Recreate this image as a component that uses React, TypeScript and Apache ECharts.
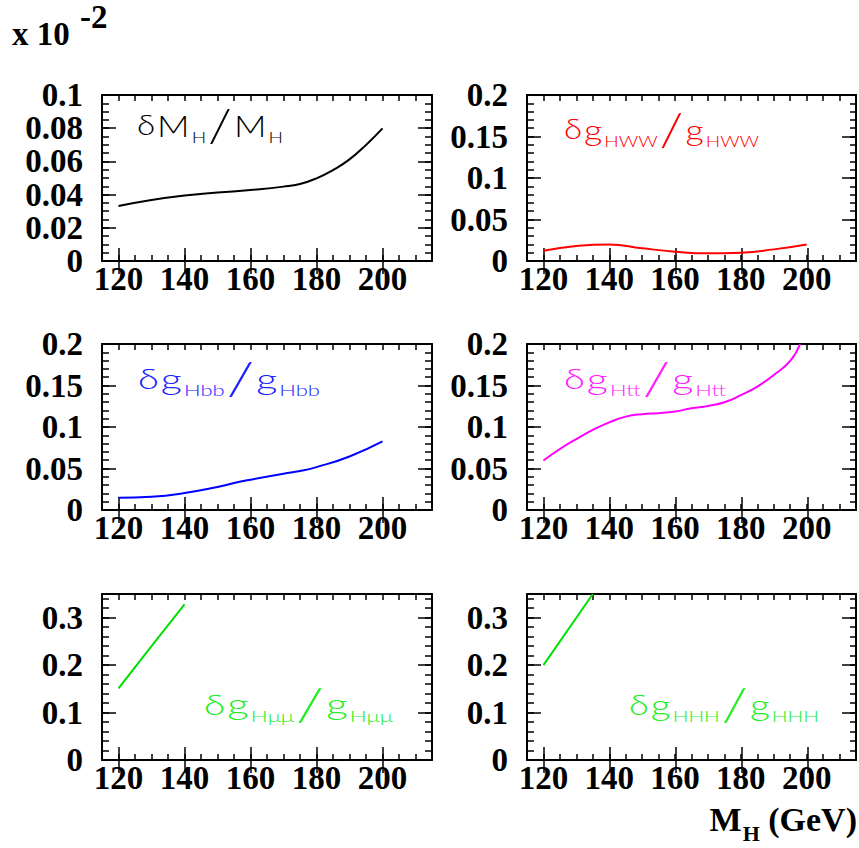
import React, { useEffect, useRef } from 'react';
import * as echarts from 'echarts';

// ---- tick labels ----
const xTickLabels = [120, 140, 160, 180, 200];

// ---- data ----
const massMH = [120, 130, 140, 150, 160, 170, 175, 180, 185, 190, 195, 200];
const dMH = [0.0331, 0.0367, 0.0394, 0.0412, 0.0428, 0.0448, 0.0464, 0.0498, 0.0548, 0.0612, 0.0699, 0.0799];

const massHWW = [120, 130, 140, 150, 160, 170, 180, 190, 200];
const dHWW = [0.0124, 0.018, 0.02, 0.0153, 0.0112, 0.0092, 0.01, 0.014, 0.02];

const massHbb = [120, 130, 140, 150, 155, 160, 170, 175, 180, 190, 200];
const dHbb = [0.0148, 0.016, 0.0204, 0.0277, 0.0325, 0.0365, 0.0437, 0.0469, 0.0517, 0.0645, 0.0826];

const massHtt = [120, 125, 130, 135, 140, 145, 150, 155, 160, 165, 170, 175, 180, 185, 190, 195, 198];
const dHtt = [0.0597, 0.0735, 0.0855, 0.0965, 0.1055, 0.1125, 0.1155, 0.1166, 0.1186, 0.1226, 0.1254, 0.1298, 0.1383, 0.1487, 0.1627, 0.1796, 0.2];

const massHmm = [120, 130, 140];
const dHmm = [0.151, 0.24, 0.328];

const massHHH = [120, 130, 135];
const dHHH = [0.2, 0.3, 0.35];

// ---- label texts ----
const labelMH = [['δ', 'd'], ['M', 'm'], ['H', 's'], ['/', 'sl'], ['M', 'm'], ['H', 's']];
const coupling = (sub: string) => [['δ', 'd'], ['g', 'm'], [sub, 's'], ['/', 'sl'], ['g', 'm'], [sub, 's']];

const SERIF = "'Liberation Serif', 'Times New Roman', serif";
const SANS = "Lato, 'DejaVu Sans', sans-serif";
const SANS_WEIGHT = 300;
const W = 330;
const H = 166;

const panels = [
  { xs: massMH, ys: dMH, color: '#000000', tcolor: '#000000', yMax: 0.1, major: 0.02, minor: 0.005, left: 102, top: 95,
    label: labelMH, lx: 137, ly: 125, lw: 146 },
  { xs: massHWW, ys: dHWW, color: '#ff0000', tcolor: '#ff0000', yMax: 0.2, major: 0.05, minor: 0.01, left: 527, top: 95,
    label: coupling('HWW'), lx: 564, ly: 129, lw: 195 },
  { xs: massHbb, ys: dHbb, color: '#0000ff', tcolor: '#2020ff', yMax: 0.2, major: 0.05, minor: 0.01, left: 102, top: 344,
    label: coupling('Hbb'), lx: 138, ly: 378, lw: 182 },
  { xs: massHtt, ys: dHtt, color: '#ff00ff', tcolor: '#ff20ff', yMax: 0.2, major: 0.05, minor: 0.01, left: 527, top: 344,
    label: coupling('Htt'), lx: 564, ly: 378, lw: 162 },
  { xs: massHmm, ys: dHmm, color: '#00e000', tcolor: '#22ee22', yMax: 0.35, major: 0.1, minor: 0.02, left: 102, top: 594,
    label: coupling('Hμμ'), lx: 204, ly: 704, lw: 189 },
  { xs: massHHH, ys: dHHH, color: '#00e000', tcolor: '#22ee22', yMax: 0.35, major: 0.1, minor: 0.02, left: 527, top: 594,
    label: coupling('HHH'), lx: 629, ly: 704, lw: 190 },
];

const kinds: Record<string, { size: number; dy: number }> = {
  d: { size: 28, dy: 0 },
  m: { size: 30, dy: 0 },
  s: { size: 16, dy: 12 },
  sl: { size: 46, dy: -1 },
};

function buildOption() {
  const canvas = document.createElement('canvas');
  const ctx = canvas.getContext('2d')!;
  const measure = (t: string, font: string) => {
    ctx.font = font;
    return ctx.measureText(t).width;
  };

  const grid: any[] = [];
  const xAxis: any[] = [];
  const yAxis: any[] = [];
  const series: any[] = [];
  const graphic: any[] = [];
  const black = '#000000';
  const labelFont = { fontSize: 33, fontWeight: 'bold', fontFamily: SERIF, color: black };

  panels.forEach((p, i) => {
    const g = { left: p.left, top: p.top, width: W, height: H, containLabel: false };
    grid.push({ ...g }, { ...g });
    const ga = 2 * i;
    const gb = 2 * i + 1;
    const frame = { show: true, onZero: false, lineStyle: { color: black, width: 2 } };
    const xFmt = (v: number) => (xTickLabels.includes(v) ? String(v) : '');
    const yFmt = (v: number) => {
      const k = v / p.major;
      return Math.abs(k - Math.round(k)) < 1e-6 ? String(+v.toFixed(4)) : '';
    };
    xAxis.push(
      { type: 'value', gridIndex: ga, position: 'bottom', min: 115, max: 215, interval: 5,
        axisLine: frame, splitLine: { show: false },
        axisTick: { inside: true, length: 6, lineStyle: { color: black, width: 1.5 } },
        axisLabel: { ...labelFont, margin: 1, formatter: xFmt } },
      { type: 'value', gridIndex: ga, position: 'top', min: 115, max: 215, interval: 5,
        axisLine: frame, splitLine: { show: false },
        axisTick: { inside: true, length: 6, lineStyle: { color: black, width: 1.5 } },
        axisLabel: { show: false } },
      { type: 'value', gridIndex: gb, position: 'bottom', min: 115, max: 215,
        axisLine: { show: false }, splitLine: { show: false },
        axisTick: { inside: true, length: 13, customValues: xTickLabels, lineStyle: { color: black, width: 1.5 } },
        axisLabel: { show: false } },
      { type: 'value', gridIndex: gb, position: 'top', min: 115, max: 215,
        axisLine: { show: false }, splitLine: { show: false },
        axisTick: { inside: true, length: 13, customValues: xTickLabels, lineStyle: { color: black, width: 1.5 } },
        axisLabel: { show: false } }
    );
    yAxis.push(
      { type: 'value', gridIndex: ga, position: 'left', min: 0, max: p.yMax, interval: p.major,
        axisLine: frame, splitLine: { show: false },
        axisTick: { inside: true, length: 14, lineStyle: { color: black, width: 1.5 } },
        axisLabel: { ...labelFont, margin: 19, formatter: yFmt } },
      { type: 'value', gridIndex: ga, position: 'right', min: 0, max: p.yMax, interval: p.major,
        axisLine: frame, splitLine: { show: false },
        axisTick: { inside: true, length: 14, lineStyle: { color: black, width: 1.5 } },
        axisLabel: { show: false } },
      { type: 'value', gridIndex: gb, position: 'left', min: 0, max: p.yMax, interval: p.minor,
        axisLine: { show: false }, splitLine: { show: false },
        axisTick: { inside: true, length: 7, lineStyle: { color: black, width: 1.5 } },
        axisLabel: { show: false } },
      { type: 'value', gridIndex: gb, position: 'right', min: 0, max: p.yMax, interval: p.minor,
        axisLine: { show: false }, splitLine: { show: false },
        axisTick: { inside: true, length: 7, lineStyle: { color: black, width: 1.5 } },
        axisLabel: { show: false } }
    );
    series.push({
      type: 'line',
      xAxisIndex: 4 * i,
      yAxisIndex: 4 * i,
      data: p.xs.map((x, j) => [x, p.ys[j]]),
      showSymbol: false,
      smooth: true,
      clip: true,
      lineStyle: { color: p.color, width: 2 },
      z: 5,
    });

    // in-panel label, laid out fragment by fragment and stretched to the reference width
    const gap = 2;
    const raw = p.label.map(([t, k]) => measure(t, `${SANS_WEIGHT} ${kinds[k].size}px ${SANS}`));
    const rawTotal = raw.reduce((a, b) => a + b, 0);
    const sx = (p.lw - gap * (p.label.length - 1)) / rawTotal;
    let cx = p.lx;
    p.label.forEach(([t, k], j) => {
      const kd = kinds[k];
      graphic.push({
        type: 'text',
        x: cx,
        y: p.ly + kd.dy,
        scaleX: sx,
        z: 10,
        style: {
          text: t,
          fontSize: kd.size,
          fontFamily: SANS,
          fontWeight: SANS_WEIGHT,
          fill: p.tcolor,
          align: 'left',
          verticalAlign: 'middle',
        },
      });
      cx += raw[j] * sx + gap;
    });
  });

  // "x 10^-2"
  const serifText = { fontFamily: SERIF, fontWeight: 'bold', fill: black };
  graphic.push(
    { type: 'text', x: 12, y: 34, style: { ...serifText, text: 'x 10', fontSize: 33, verticalAlign: 'middle' } },
    { type: 'text', x: 80, y: 17, style: { ...serifText, text: '-2', fontSize: 33, verticalAlign: 'middle' } }
  );

  // "M_H (GeV)"
  const axisTitle = [
    { t: 'M', size: 34, dy: 0, gap: 1 },
    { t: 'H', size: 22, dy: 14, gap: 0 },
    { t: ' (GeV)', size: 34, dy: 0, gap: 0 },
  ];
  const widths = axisTitle.map((f) => measure(f.t, `bold ${f.size}px ${SERIF}`) + f.gap);
  const total = widths.reduce((a, b) => a + b, 0);
  let tx = 857 - total;
  axisTitle.forEach((f, j) => {
    graphic.push({
      type: 'text',
      x: tx,
      y: 819 + f.dy,
      style: { ...serifText, text: f.t, fontSize: f.size, align: 'left', verticalAlign: 'middle' },
    });
    tx += widths[j];
  });

  return {
    animation: false,
    backgroundColor: '#ffffff',
    grid,
    xAxis,
    yAxis,
    series,
    graphic,
  };
}

export default function App() {
  const ref = useRef<HTMLDivElement>(null);
  useEffect(() => {
    if (!ref.current) return;
    const chart = echarts.init(ref.current, null, { renderer: 'svg' });
    chart.setOption(buildOption() as any);
    return () => chart.dispose();
  }, []);
  return (
    <div
      ref={ref}
      style={{ position: 'fixed', left: 0, top: 0, width: 859, height: 848, background: '#ffffff' }}
    />
  );
}
